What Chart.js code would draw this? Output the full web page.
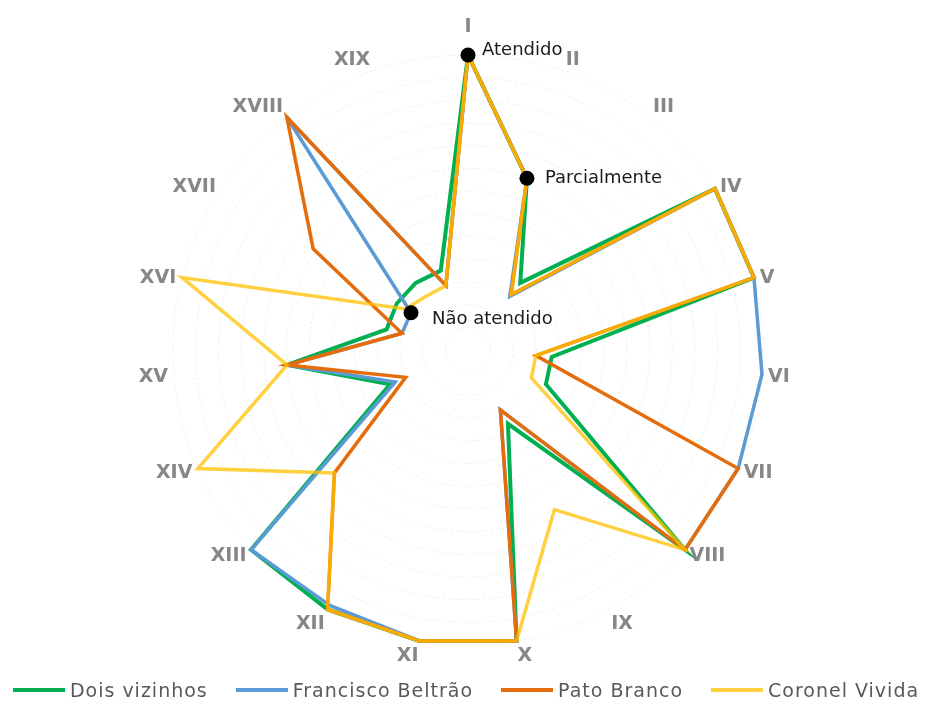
<!DOCTYPE html>
<html lang="pt">
<head>
    <meta charset="UTF-8">
    <title>Radar</title>
    <script src="https://cdn.jsdelivr.net/npm/chart.js@4"></script>
    <style>
        body {
            margin: 0;
            background: #fff;
            font-family: "DejaVu Sans", sans-serif;
        }
        .wrap {
            position: relative;
            width: 932px;
            height: 704px;
        }
        .legend {
            position: absolute;
            left: 0;
            top: 676px;
            width: 932px;
            height: 28px;
            display: flex;
            justify-content: center;
            align-items: center;
            gap: 28px;
            color: #595959;
            font-size: 19px;
            letter-spacing: 1px;
        }
        .legend .item {
            display: flex;
            align-items: center;
            white-space: nowrap;
        }
        .legend i {
            display: inline-block;
            width: 52px;
            height: 4px;
            margin-right: 5px;
        }
    </style>
</head>
<body>
    <div class="wrap">
        <canvas id="radar"></canvas>
        <div class="legend" id="legend"></div>
    </div>

    <script>
        // axes I..XIX
        const axisLabels = ['I', 'II', 'III', 'IV', 'V', 'VI', 'VII', 'VIII', 'IX', 'X',
                            'XI', 'XII', 'XIII', 'XIV', 'XV', 'XVI', 'XVII', 'XVIII', 'XIX'];

        // 1 = Não atendido, 2 = Parcialmente, 3 = Atendido
        const doisVizinhos      = [3, 2, 1.15, 3, 3, 1.14, 1.15, 3, 1.14, 3, 3, 3, 3, 1.15, 2, 1.14, 1.15, 1.15, 1.14];
        const franciscoBeltrao  = [3, 2, 1, 3, 3, 3, 3, 3, 1, 3, 3, 2.96, 3, 1.1, 2, 1, 1, 3, 1];
        const patoBranco        = [3, 2, 1.02, 3, 3, 1, 3, 3, 1, 3, 3, 3, 2, 1, 2, 1, 2.03, 3, 1];
        const coronelVivida     = [3, 2, 1.02, 3, 3, 1, 1.01, 3, 2, 3, 3, 3, 2, 3, 2, 3, 1.06, 1, 1];

        const seriesNames  = ['Dois vizinhos', 'Francisco Beltrão', 'Pato Branco', 'Coronel Vivida'];
        const seriesValues = [doisVizinhos, franciscoBeltrao, patoBranco, coronelVivida];

        // level markers written on the chart
        const markerLabels = ['Atendido', 'Parcialmente', 'Não atendido'];
        const markerAxis   = [0, 1, 16];
        const markerValues = [3, 2, 1];

        const seriesColors = ['#00B050', '#5B9BD5', '#E46C0A', 'rgba(255, 192, 0, 0.75)'];
        const seriesWidths = [4, 3.5, 3.5, 3.5];
        const markerOffsets = [[14, 0], [18, 5], [21, 11]];

        // axis names placed like the office chart: side labels vertically centred,
        // top ones sitting on the anchor, bottom ones hanging from it
        const axisNames = {
            id: 'axisNames',
            afterDraw(chart) {
                const scale = chart.scales.r;
                const ctx = chart.ctx;
                ctx.save();
                ctx.font = 'bold 19px "DejaVu Sans"';
                ctx.fillStyle = '#878787';
                ctx.textBaseline = 'alphabetic';
                const cap = ctx.measureText('X').actualBoundingBoxAscent;
                axisLabels.forEach((t, i) => {
                    const pad = i === 0 ? 23 : 6;
                    const p = scale.getPointPosition(i, scale.drawingArea + pad);
                    const dx = Math.cos(p.angle);
                    const dy = Math.sin(p.angle);
                    ctx.textAlign = Math.abs(dx) < 0.01 ? 'center' : (dx > 0 ? 'left' : 'right');
                    let y;
                    if (Math.abs(dx) > 0.7071) y = p.y + cap / 2;
                    else if (dy < 0) y = p.y;
                    else y = p.y + cap;
                    ctx.fillText(t, p.x, y);
                });
                ctx.restore();
            }
        };

        // black dots + their captions, placed through the radial scale
        const levelMarkers = {
            id: 'levelMarkers',
            afterDatasetsDraw(chart) {
                const scale = chart.scales.r;
                const ctx = chart.ctx;
                ctx.save();
                ctx.font = '18px "DejaVu Sans"';
                ctx.textAlign = 'left';
                ctx.textBaseline = 'alphabetic';
                markerLabels.forEach((t, i) => {
                    const p = scale.getPointPositionForValue(markerAxis[i], markerValues[i]);
                    ctx.fillStyle = '#000';
                    ctx.beginPath();
                    ctx.arc(p.x, p.y, 7.5, 0, Math.PI * 2);
                    ctx.fill();
                    ctx.fillStyle = '#1a1a1a';
                    ctx.fillText(t, p.x + markerOffsets[i][0], p.y + markerOffsets[i][1]);
                });
                ctx.restore();
            }
        };

        const ctx = document.getElementById('radar').getContext('2d');
        new Chart(ctx, {
            type: 'radar',
            data: {
                labels: axisLabels,
                datasets: seriesValues.map((vals, i) => ({
                    label: seriesNames[i],
                    data: vals,
                    borderColor: seriesColors[i],
                    backgroundColor: 'transparent',
                    borderWidth: seriesWidths[i],
                    borderJoinStyle: 'miter',
                    pointRadius: 0,
                    pointHoverRadius: 0,
                    fill: false,
                    tension: 0,
                    order: seriesValues.length - i // last series on top, like the original
                }))
            },
            options: {
                responsive: true,
                maintainAspectRatio: false,
                animation: false,
                layout: {
                    padding: { top: 55, bottom: 59, left: 4, right: 0 }
                },
                scales: {
                    r: {
                        min: 0.4,
                        max: 3,
                        ticks: { display: false, stepSize: 0.2 },
                        angleLines: { display: false },
                        grid: { circular: true, color: '#eaeaea', lineWidth: 1 },
                        border: { dash: [2, 3] },
                        pointLabels: { display: false }
                    }
                },
                plugins: {
                    legend: { display: false },
                    tooltip: { enabled: false }
                }
            },
            plugins: [levelMarkers, axisNames]
        });

        // legend under the chart
        const legend = document.getElementById('legend');
        seriesNames.forEach((name, i) => {
            const item = document.createElement('span');
            item.className = 'item';
            const sw = document.createElement('i');
            sw.style.background = seriesColors[i];
            item.appendChild(sw);
            item.appendChild(document.createTextNode(name));
            legend.appendChild(item);
        });
    </script>
</body>
</html>
